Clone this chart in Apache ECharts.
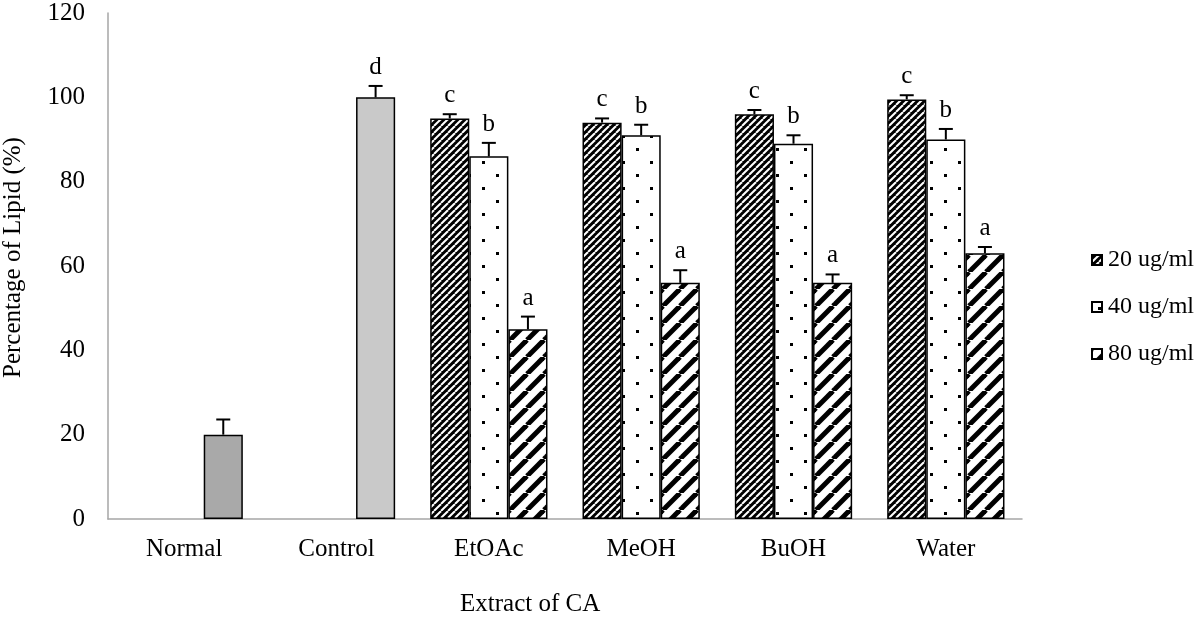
<!DOCTYPE html>
<html>
<head>
<meta charset="utf-8">
<script src="https://cdn.jsdelivr.net/npm/echarts@6/dist/echarts.min.js"></script>
<style>html,body{margin:0;padding:0;background:#fff;}#c{width:1200px;height:618px;}</style>
</head>
<body>
<div id="c"></div>
<script>
const categories = ['Normal', 'Control', 'EtOAc', 'MeOH', 'BuOH', 'Water'];
const seriesNames = ['20 ug/ml', '40 ug/ml', '80 ug/ml'];
const values20 = [null, null, 95, 94, 96, 99.5];
const values40 = [null, null, 86, 91, 89, 90];
const values80 = [20, 100, 45, 56, 56, 63];
const err20 = [null, null, 1, 1, 1, 1];
const err40 = [null, null, 3.2, 2.5, 2, 2.5];
const err80 = [3.6, 2.7, 3, 3, 2, 1.5];
const letters20 = ['', '', 'c', 'c', 'c', 'c'];
const letters40 = ['', '', 'b', 'b', 'b', 'b'];
const letters80 = ['', 'd', 'a', 'a', 'a', 'a'];
const yTicks = [0, 20, 40, 60, 80, 100, 120];

const FONT = '"Liberation Serif", "Times New Roman", serif';
const FS = 25;

function stripeTile(size, bg, fg, lw) {
  const c = document.createElement('canvas');
  c.width = size; c.height = size;
  const g = c.getContext('2d');
  g.fillStyle = bg; g.fillRect(0, 0, size, size);
  g.strokeStyle = fg; g.lineWidth = lw;
  for (let k = -size; k <= size; k += size) {
    g.beginPath();
    g.moveTo(k, size);
    g.lineTo(k + size, 0);
    g.stroke();
  }
  return c;
}
function dotTile() {
  const c = document.createElement('canvas');
  c.width = 28; c.height = 26;
  const g = c.getContext('2d');
  g.fillStyle = '#fff'; g.fillRect(0, 0, 28, 26);
  g.fillStyle = '#000';
  g.fillRect(6, 5, 3, 3);
  g.fillRect(20, 18, 3, 3);
  return c;
}
const pat20 = { image: stripeTile(7, '#000', '#fff', 2.0), repeat: 'repeat' };
const pat40 = { image: dotTile(), repeat: 'repeat' };
const pat80 = { image: stripeTile(17, '#fff', '#000', 5), repeat: 'repeat' };
const grayColors = ['#a9a9a9', '#c9c9c9'];

const GAP = 0.23;
const border = { borderColor: '#000', borderWidth: 1.5 };

function barData(vals, s) {
  return vals.map((v, i) => {
    if (v == null) return null;
    if (s === 2 && i < 2) {
      return { value: v, itemStyle: { color: grayColors[i], borderColor: '#000', borderWidth: 1.5 } };
    }
    return v;
  });
}

const errData = [];
[[values20, err20, letters20], [values40, err40, letters40], [values80, err80, letters80]].forEach((arr, s) => {
  arr[0].forEach((v, i) => {
    if (v == null) return;
    errData.push([i, s, v, arr[1][i], arr[2][i]]);
  });
});

const chart = echarts.init(document.getElementById('c'), null, { renderer: 'canvas' });
chart.setOption({
  animation: false,
  backgroundColor: '#fff',
  grid: { left: 108, right: 178, top: 13, bottom: 99 },
  legend: {
    orient: 'vertical',
    left: 1086,
    top: 243,
    itemWidth: 10,
    itemHeight: 10,
    itemGap: 23,
    data: seriesNames,
    icon: 'rect',
    textStyle: { fontFamily: FONT, fontSize: 24, color: '#000', padding: [0, 0, 0, 1] }
  },
  xAxis: {
    type: 'category',
    data: categories,
    axisLine: { lineStyle: { color: '#a6a6a6', width: 1.5 } },
    axisTick: { show: false },
    axisLabel: { fontFamily: FONT, fontSize: FS, color: '#000', margin: 18 }
  },
  yAxis: {
    type: 'value',
    min: 0, max: 120, interval: 20,
    axisLine: { show: true, lineStyle: { color: '#a6a6a6', width: 1.5 } },
    axisTick: { show: false },
    splitLine: { show: false },
    axisLabel: { fontFamily: FONT, fontSize: FS, color: '#000', margin: 23,
      formatter: v => yTicks.includes(v) ? String(v) : '' }
  },
  graphic: [
    { type: 'text', left: 460, top: 592, style: { text: 'Extract of CA', font: FS + 'px ' + FONT, fill: '#000' } },
    { type: 'text', x: 1, y: 378, rotation: Math.PI / 2,
      style: { text: 'Percentage of Lipid (%)', font: FS + 'px ' + FONT, fill: '#000' } }
  ],
  series: [
    { name: seriesNames[0], type: 'bar', data: barData(values20, 0), barGap: '0%', barCategoryGap: (GAP * 100) + '%',
      itemStyle: Object.assign({ color: pat20 }, border) },
    { name: seriesNames[1], type: 'bar', data: barData(values40, 1), barGap: '0%', barCategoryGap: (GAP * 100) + '%',
      itemStyle: Object.assign({ color: pat40 }, border) },
    { name: seriesNames[2], type: 'bar', data: barData(values80, 2), barGap: '0%', barCategoryGap: (GAP * 100) + '%',
      itemStyle: Object.assign({ color: pat80 }, border) },
    {
      type: 'custom',
      z: 10,
      data: errData,
      encode: { x: 0, y: 2 },
      renderItem: function (params, api) {
        const cat = api.value(0), s = api.value(1), v = api.value(2), e = api.value(3);
        const letter = errData[params.dataIndex][4];
        const band = api.size([1, 0])[0];
        const bw = band * (1 - GAP) / 3;
        const base = api.coord([cat, v]);
        const top = api.coord([cat, v + e]);
        const x = base[0] + (s - 1) * bw;
        const children = [
          { type: 'line', shape: { x1: x, y1: base[1], x2: x, y2: top[1] }, style: { stroke: '#000', lineWidth: 2 } },
          { type: 'line', shape: { x1: x - 7, y1: top[1], x2: x + 7, y2: top[1] }, style: { stroke: '#000', lineWidth: 2 } }
        ];
        if (letter) {
          children.push({ type: 'text', style: { text: letter, x: x, y: top[1] - 6, align: 'center', verticalAlign: 'bottom',
            font: FS + 'px ' + FONT, fill: '#000' } });
        }
        return { type: 'group', children: children };
      }
    }
  ]
});
</script>
</body>
</html>
